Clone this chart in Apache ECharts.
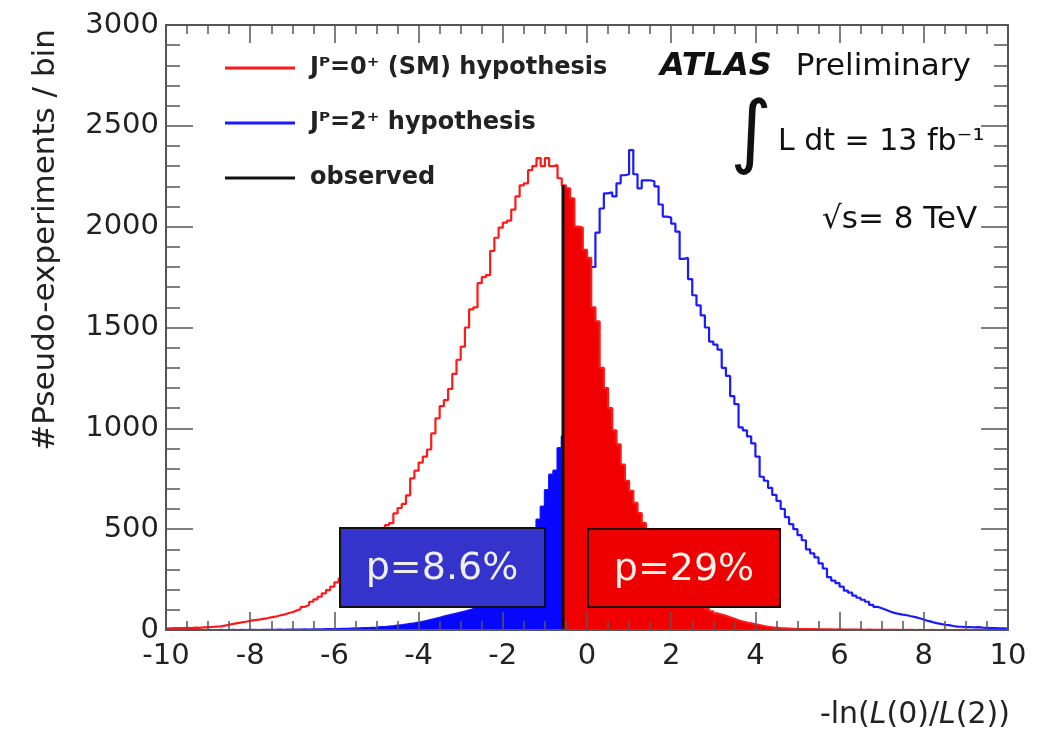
<!DOCTYPE html>
<html><head><meta charset="utf-8">
<script src="https://cdn.jsdelivr.net/npm/echarts@6/dist/echarts.min.js"></script>
<style>html,body{margin:0;padding:0;background:#fff}#c{width:1040px;height:732px}</style>
</head><body><div id="c"></div>
<script>
// ---- data (bins of width 0.1 from -10 to 10) ----
const binLo = -10;
const binWidth = 0.1;
const xMin = -10, xMax = 10, xInterval = 2;
const yMin = 0, yMax = 3000, yInterval = 500;
const observedValue = -0.57;

// J^P = 0+ (SM) pseudo-experiments per bin
const sm0Counts = [
  8, 9, 10, 9, 11, 10, 12, 11, 13, 14,
  15, 17, 18, 22, 26, 30, 34, 38, 41, 45,
  49, 51, 55, 58, 63, 66, 72, 76, 83, 88,
  96, 104, 115, 124, 140, 152, 165, 182, 198, 215,
  236, 255, 272, 292, 312, 335, 360, 385, 415, 445,
  478, 505, 520, 530, 578, 605, 625, 668, 752, 790,
  830, 860, 895, 975, 1050, 1110, 1140, 1195, 1270, 1340,
  1405, 1500, 1590, 1600, 1720, 1750, 1760, 1880, 1945, 1995,
  2020, 2030, 2085, 2150, 2205, 2215, 2280, 2300, 2340, 2300,
  2340, 2300, 2305, 2240, 2205, 2190, 2140, 2000, 1995, 1885,
  1845, 1600, 1530, 1300, 1200, 1100, 990, 920, 820, 740,
  690, 630, 580, 530, 490, 445, 400, 362, 325, 292,
  262, 236, 212, 190, 170, 152, 136, 120, 104, 92,
  82, 76, 70, 63, 56, 48, 42, 37, 33, 28,
  24, 20, 16, 13, 11, 9, 8, 7, 6, 5,
  5, 4, 4, 4, 3, 3, 3, 3, 2, 3,
  2, 2, 2, 2, 2, 1, 2, 1, 1, 1,
  1, 1, 1, 1, 0, 1, 1, 0, 1, 0,
  0, 1, 0, 0, 1, 0, 0, 0, 1, 0,
  0, 0, 1, 0, 0, 0, 0, 0, 0, 0
];
// J^P = 2+ pseudo-experiments per bin
const spin2Counts = [
  0, 0, 0, 0, 0, 0, 0, 0, 0, 1,
  0, 0, 1, 0, 0, 1, 0, 1, 0, 1,
  1, 0, 1, 1, 1, 1, 2, 1, 2, 2,
  2, 2, 3, 2, 3, 3, 3, 4, 4, 5,
  5, 6, 6, 7, 8, 8, 9, 10, 11, 12,
  14, 15, 17, 19, 22, 24, 27, 30, 33, 37,
  41, 45, 50, 55, 61, 67, 72, 77, 82, 87,
  92, 97, 102, 114, 127, 141, 158, 176, 197, 220,
  245, 272, 302, 336, 372, 412, 455, 505, 548, 612,
  694, 770, 790, 902, 960, 1040, 1130, 1240, 1360, 1500,
  1800, 1800, 1970, 2090, 2165, 2170, 2150, 2215, 2255, 2260,
  2380, 2260, 2190, 2230, 2230, 2225, 2200, 2110, 2050, 2045,
  2015, 1975, 1840, 1845, 1740, 1660, 1610, 1560, 1500, 1430,
  1415, 1390, 1300, 1260, 1160, 1120, 1005, 990, 960, 925,
  860, 760, 740, 705, 670, 640, 600, 560, 525, 500,
  470, 445, 400, 380, 360, 330, 305, 262, 245, 232,
  215, 195, 185, 170, 160, 150, 140, 125, 115, 108,
  100, 92, 85, 80, 76, 73, 68, 64, 58, 52,
  45, 40, 34, 30, 26, 24, 20, 17, 16, 14,
  15, 13, 14, 12, 11, 10, 9, 8, 8, 7
];

const nameSM = 'J\u1D3E=0\u207A (SM) hypothesis';
const name2 = 'J\u1D3E=2\u207A hypothesis';
const nameObs = 'observed';
const pValue2 = 'p=8.6%';
const pValueSM = 'p=29%';

// ---- helpers ----
const FONT = 'DejaVu Sans';
function edge(i) { return Math.round((binLo + i * binWidth) * 1000) / 1000; }
function stepPoints(counts, from, to) {
  const pts = [];
  for (let i = 0; i < counts.length; i++) {
    const l = edge(i), r = edge(i + 1);
    if (r <= from || l >= to) continue;
    pts.push([Math.max(l, from), counts[i]]);
  }
  pts.push([to, pts[pts.length - 1][1]]);
  return pts;
}
function countAt(counts, x) {
  const i = Math.floor((x - binLo) / binWidth);
  return counts[i];
}

const axisColor = '#555';
function xAxisCfg(pos, labels) {
  return {
    type: 'value', position: pos, min: xMin, max: xMax, interval: xInterval, z: 10,
    axisLine: {show: true, onZero: false, lineStyle: {color: axisColor, width: 2}},
    axisTick: {show: true, inside: true, length: 18, lineStyle: {color: axisColor, width: 1.5}},
    minorTick: {show: true, splitNumber: 4, length: 9, lineStyle: {color: axisColor, width: 1.5}},
    splitLine: {show: false},
    axisLabel: {show: labels, fontFamily: FONT, fontSize: 29, color: '#222', margin: 12,
      formatter: v => String(v),
      showMinLabel: true, showMaxLabel: true, hideOverlap: false}
  };
}
function yAxisCfg(pos, labels) {
  return {
    type: 'value', position: pos, min: yMin, max: yMax, interval: yInterval, z: 10,
    axisLine: {show: true, onZero: false, lineStyle: {color: axisColor, width: 2}},
    axisTick: {show: true, inside: true, length: 27, lineStyle: {color: axisColor, width: 1.5}},
    minorTick: {show: true, splitNumber: 5, length: 14, lineStyle: {color: axisColor, width: 1.5}},
    splitLine: {show: false},
    axisLabel: {show: labels, fontFamily: FONT, fontSize: 29, color: '#222', margin: 7,
      formatter: v => String(v),
      showMinLabel: true, showMaxLabel: true, hideOverlap: false}
  };
}

const chart = echarts.init(document.getElementById('c'), null, {renderer: 'canvas'});
const obsHeight = countAt(sm0Counts, observedValue);

const option = {
  backgroundColor: '#fff',
  animation: false,
  grid: {left: 166, right: 32, top: 25, bottom: 102, containLabel: false, outerBoundsMode: 'none'},
  xAxis: [xAxisCfg('bottom', true), xAxisCfg('top', false)],
  yAxis: [yAxisCfg('left', true), yAxisCfg('right', false)],
  legend: {
    data: [nameSM, name2, nameObs],
    orient: 'vertical', left: 225, top: 56, padding: 0,
    itemWidth: 70, itemHeight: 3, itemGap: 31, icon: 'rect', selectedMode: false,
    textStyle: {fontFamily: FONT, fontSize: 24, fontWeight: 'bold', color: '#222', lineHeight: 24, padding: [0, 0, 0, 10]}
  },
  series: [
    {name: name2, type: 'line', step: 'end', symbol: 'none', silent: true, z: 2,
      color: '#1a1aff', lineStyle: {color: '#1a1aff', width: 2.2},
      data: stepPoints(spin2Counts, xMin, xMax)},
    {name: 'smFill', type: 'line', step: 'end', symbol: 'none', silent: true, z: 3,
      color: '#f00000', lineStyle: {width: 0}, areaStyle: {color: '#f00000', opacity: 1},
      data: stepPoints(sm0Counts, observedValue, xMax)},
    {name: nameSM, type: 'line', step: 'end', symbol: 'none', silent: true, z: 4,
      color: '#ff1a1a', lineStyle: {color: '#ff1a1a', width: 2.2},
      data: stepPoints(sm0Counts, xMin, xMax)},
    {name: 'spin2Fill', type: 'line', step: 'end', symbol: 'none', silent: true, z: 5,
      color: '#0808ff', lineStyle: {width: 0}, areaStyle: {color: '#0808ff', opacity: 1},
      data: stepPoints(spin2Counts, xMin, observedValue)},
    {name: nameObs, type: 'line', symbol: 'none', silent: true, z: 6,
      color: '#111', lineStyle: {color: '#111', width: 3},
      data: [[observedValue, 0], [observedValue, obsHeight]]}
  ],
  graphic: [
    {type: 'text', x: 660, y: 67, z: 100,
      style: {text: '{a|ATLAS}{b|Preliminary}', fill: '#111', align: 'left', verticalAlign: 'middle',
        textAlign: 'left', textVerticalAlign: 'middle',
        rich: {a: {fontFamily: FONT, fontSize: 32, fontWeight: 'bold', fontStyle: 'italic', fill: '#111'},
               b: {fontFamily: FONT, fontSize: 31, fill: '#111', padding: [0, 0, 0, 24]}}}},
    {type: 'text', x: 751, y: 137, z: 100,
      style: {text: '\u222B', fill: '#111', font: '80px "DejaVu Sans"', align: 'center', verticalAlign: 'middle',
        textAlign: 'center', textVerticalAlign: 'middle'}},
    {type: 'text', x: 778, y: 142, z: 100,
      style: {text: 'L dt = 13 fb\u207B\u00B9', fill: '#111', font: '30px "DejaVu Sans"', align: 'left', verticalAlign: 'middle',
        textAlign: 'left', textVerticalAlign: 'middle'}},
    {type: 'text', x: 822, y: 220, z: 100,
      style: {text: '\u221As= 8 TeV', fill: '#111', font: '31px "DejaVu Sans"', align: 'left', verticalAlign: 'middle',
        textAlign: 'left', textVerticalAlign: 'middle'}},
    {type: 'rect', z: 100, shape: {x: 340, y: 528, width: 205, height: 79},
      style: {fill: '#3434cc', stroke: '#111', lineWidth: 2}},
    {type: 'text', x: 442, y: 569, z: 101,
      style: {text: pValue2, fill: '#eeeeee', font: '38px "DejaVu Sans"', align: 'center', verticalAlign: 'middle',
        textAlign: 'center', textVerticalAlign: 'middle'}},
    {type: 'rect', z: 100, shape: {x: 588, y: 529, width: 192, height: 78},
      style: {fill: '#ee0000', stroke: '#220000', lineWidth: 2}},
    {type: 'text', x: 684, y: 570, z: 101,
      style: {text: pValueSM, fill: '#f6f0e8', font: '38px "DejaVu Sans"', align: 'center', verticalAlign: 'middle',
        textAlign: 'center', textVerticalAlign: 'middle'}},
    {type: 'text', x: 46, y: 240, rotation: Math.PI / 2, z: 100,
      style: {text: '#Pseudo-experiments / bin', fill: '#222', font: '31px "DejaVu Sans"', align: 'center', verticalAlign: 'middle',
        textAlign: 'center', textVerticalAlign: 'middle'}},
    {type: 'text', x: 1010, y: 715, z: 100,
      style: {text: '-ln({i|L}(0)/{i|L}(2))', fill: '#222', fontFamily: FONT, fontSize: 30, align: 'right', verticalAlign: 'middle',
        textAlign: 'right', textVerticalAlign: 'middle',
        rich: {i: {fontFamily: FONT, fontSize: 30, fontStyle: 'italic', fill: '#222'}}}}
  ]
};
chart.setOption(option);
</script></body></html>
